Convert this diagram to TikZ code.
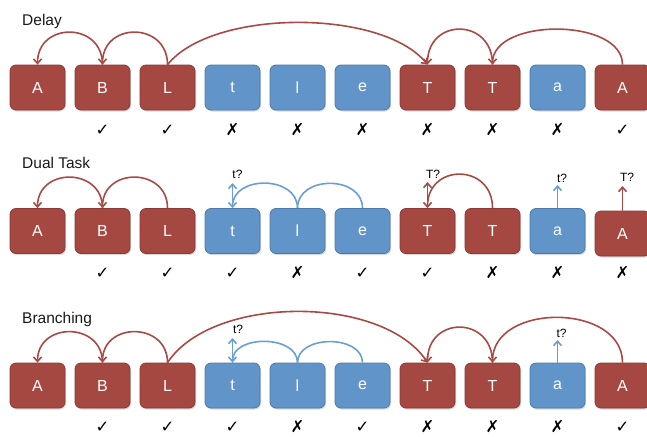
\documentclass[tikz,border=0pt]{standalone}
\usepackage{fontspec}
\setmainfont{Liberation Sans}
\newfontfamily\symfont{DejaVu Sans}
\usetikzlibrary{arrows.meta,shadows}

\definecolor{tokred}{HTML}{A54842}
\definecolor{tokredline}{HTML}{8A3934}
\definecolor{tokblue}{HTML}{6195C9}
\definecolor{tokblueline}{HTML}{4C79A8}
\definecolor{linkred}{HTML}{A84A44}
\definecolor{linkblue}{HTML}{6A9FD6}

\newcommand\yes{✓}
\newcommand\no{✗}

\tikzset{
  tok/.style={rounded corners=6pt, minimum width=55pt, minimum height=45pt,
    inner sep=0pt, line width=0.8pt, text=white,
    font=\fontsize{16}{16}\selectfont,
    drop shadow={shadow xshift=1pt, shadow yshift=-1.5pt, opacity=0.3}},
  red tok/.style={tok, fill=tokred, draw=tokredline},
  blue tok/.style={tok, fill=tokblue, draw=tokblueline},
  verdict/.style={font=\symfont\bfseries\fontsize{16.5}{16.5}\selectfont, inner sep=0pt},
  rowtitle/.style={font=\fontsize{15.5}{15.5}\selectfont, anchor=base west, inner sep=0pt, text=black!90},
  query/.style={font=\fontsize{12}{12}\selectfont, inner sep=0pt},
  tipped/.style={-{Straight Barb[length=4.5pt,width=8pt]}},
  red link/.style={draw=linkred, line width=1.6pt},
  blue link/.style={draw=linkblue, line width=1.6pt},
}

\begin{document}
\begin{tikzpicture}[x=1pt,y=-1pt]
\useasboundingbox (0,0) rectangle (647,436);
\clip (0,0) rectangle (647,436);

% row titles
\node[rowtitle] (tdelay) at (22,26) {Delay};
\node[rowtitle] (tdual) at (22,168) {Dual Task};
\node[rowtitle] (tbranch) at (22,323) {Branching};

% token boxes
\foreach \i/\k/\s in {1/red/A,2/red/B,3/red/L,4/blue/t,5/blue/l,6/blue/e,7/red/T,8/red/T,9/blue/a,10/red/A}{
  \node[\k\space tok] (a\i) at ({37.5+65*(\i-1)},87.5) {\s};
  \node[\k\space tok] (c\i) at ({37.5+65*(\i-1)},385.5) {\s};
}
\foreach \i/\k/\s in {1/red/A,2/red/B,3/red/L,4/blue/t,5/blue/l,6/blue/e,7/red/T,8/red/T,9/blue/a}{
  \node[\k\space tok] (b\i) at ({37.5+65*(\i-1)},231) {\s};
}
\node[red tok] (b10) at (622.5,233.5) {A};

% verdicts
\foreach \i/\v in {2/\yes,3/\yes,4/\no,5/\no,6/\no,7/\no,8/\no,9/\no,10/\yes}
  \node[verdict] (va\i) at ({37.5+65*(\i-1)},130) {\v};
\foreach \i/\v in {2/\yes,3/\yes,4/\yes,5/\no,6/\yes,7/\yes,8/\no,9/\no,10/\no}
  \node[verdict] (vb\i) at ({37.5+65*(\i-1)},273) {\v};
\foreach \i/\v in {2/\yes,3/\yes,4/\yes,5/\no,6/\yes,7/\no,8/\no,9/\no,10/\yes}
  \node[verdict] (vc\i) at ({37.5+65*(\i-1)},427) {\v};

% Delay
\draw[red link, tipped] (a3.north) .. controls +(0,-43) and +(0,-43) .. (a2.north);
\draw[red link, tipped] (a2.north) .. controls +(0,-43) and +(0,-43) .. (a1.north);
\draw[red link, tipped] (a3.north) .. controls +(45,-56) and +(-45,-56) .. (a7.north);
\draw[red link, tipped] (a8.north) .. controls +(0,-47) and +(0,-47) .. (a7.north);
\draw[red link, tipped] (a10.north) .. controls +(0,-47) and +(0,-47) .. (a8.north);

% Dual Task
\draw[red link, tipped] (b3.north) .. controls +(0,-41) and +(0,-41) .. (b2.north);
\draw[red link, tipped] (b2.north) .. controls +(0,-41) and +(0,-41) .. (b1.north);
\draw[red link, tipped] (b8.north) .. controls +(0,-45) and +(0,-45) .. (b7.north);
\draw[blue link] (b6.north) .. controls +(0,-33) and +(0,-33) .. (b5.north);
\draw[blue link, tipped] (b5.north) .. controls +(0,-33) and +(0,-33) .. (b4.north);

\coordinate (ub4) at (232.5,183);
\coordinate (ub7) at (427.5,182);
\coordinate (ub9) at (557.5,185);
\coordinate (ub10) at (622.5,186);
\draw[blue link, tipped] (b4.north) -- (ub4);
\draw[red link, tipped] (b7.north) -- (ub7);
\draw[blue link, tipped] (b9.north) -- (ub9);
\draw[red link, tipped] (b10.north) -- (ub10);
\node[query] (qb4) at (237.5,174) {t?};
\node[query] (qb7) at (433,174) {T?};
\node[query] (qb9) at (562,178) {t?};
\node[query] (qb10) at (627,177) {T?};

% Branching
\draw[red link, tipped] (c3.north) .. controls +(0,-41) and +(0,-41) .. (c2.north);
\draw[red link, tipped] (c2.north) .. controls +(0,-41) and +(0,-41) .. (c1.north);
\draw[red link, tipped] (c3.north) .. controls +(45,-68) and +(-45,-68) .. (c7.north);
\draw[red link, tipped] (c8.north) .. controls +(0,-47) and +(0,-47) .. (c7.north);
\draw[red link, tipped] (c10.north) .. controls +(0,-60) and +(0,-60) .. (c8.north);
\draw[blue link] (c6.north) .. controls +(0,-28) and +(0,-28) .. (c5.north);
\draw[blue link, tipped] (c5.north) .. controls +(0,-28) and +(0,-28) .. (c4.north);

\coordinate (uc4) at (232.5,338);
\coordinate (uc9) at (557.5,340);
\draw[blue link, tipped] (c4.north) -- (uc4);
\draw[blue link, tipped] (c9.north) -- (uc9);
\node[query] (qc4) at (238,329) {t?};
\node[query] (qc9) at (561.5,333) {t?};
\end{tikzpicture}
\end{document}
